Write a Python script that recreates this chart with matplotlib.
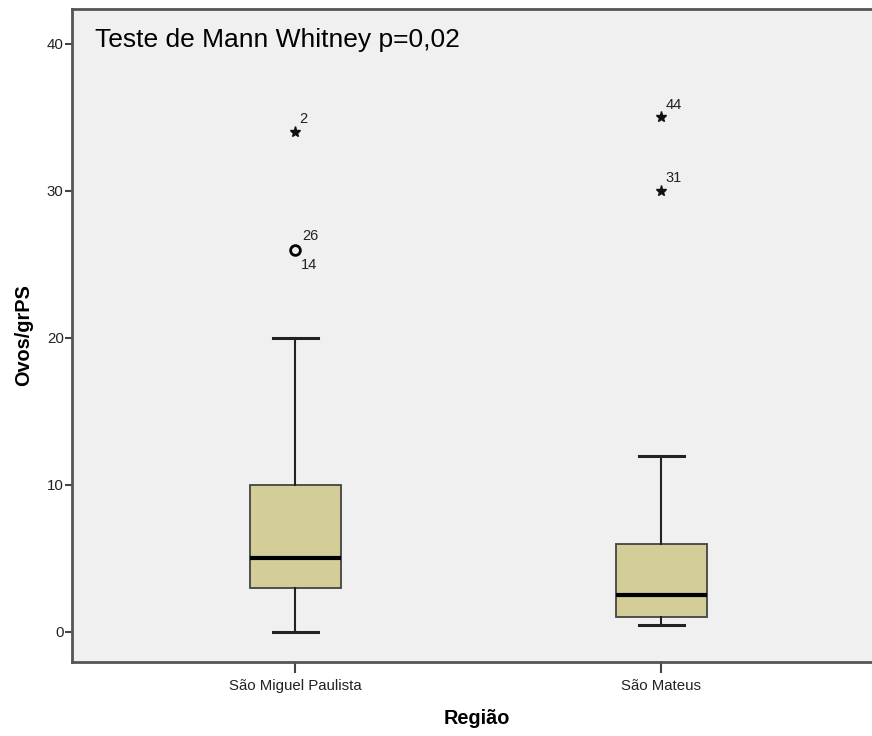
import matplotlib
matplotlib.use("Agg")
import matplotlib.pyplot as plt

plt.rcParams['font.family'] = ['Liberation Sans', 'DejaVu Sans']

categories = ["São Miguel Paulista", "São Mateus"]
whisker_low = [0, 0.5]
q1 = [3, 1]
median = [5, 2.5]
q3 = [10, 6]
whisker_high = [20, 12]

# outliers (circle) and extremes (star)
outlier_vals = [[26], []]
outlier_labels = [["26", "14"], []]
extreme_vals = [[34], [35, 30]]
extreme_labels = [["2"], ["44", "31"]]

yticks = [0, 10, 20, 30, 40]

fig = plt.figure(figsize=(8.72, 7.36), dpi=100)
ax = fig.add_axes([72/872, 1 - 662/736, 1 - 72/872 + 0.01, (662 - 9)/736])
ax.set_facecolor('#F0F0F0')

positions = [1, 2]
stats = []
for i, c in enumerate(categories):
    stats.append(dict(label=c, whislo=whisker_low[i], q1=q1[i], med=median[i],
                      q3=q3[i], whishi=whisker_high[i], fliers=[]))

ax.bxp(stats, positions=positions, widths=0.25, patch_artist=True, showfliers=False,
       boxprops=dict(facecolor='#D3CE97', edgecolor='#444444', linewidth=1.3),
       medianprops=dict(color='black', linewidth=3),
       whiskerprops=dict(color='#222222', linewidth=1.5),
       capprops=dict(color='#222222', linewidth=2.2),
       capwidths=0.123)

lab_fs = 10.5
for i, p in enumerate(positions):
    for v in outlier_vals[i]:
        ax.plot([p], [v], marker='o', markersize=7, markerfacecolor='none',
                markeredgecolor='black', markeredgewidth=2, linestyle='none')
    labs = outlier_labels[i]
    if labs:
        v = outlier_vals[i][0]
        ax.annotate(labs[0], (p, v), xytext=(5, 5), textcoords='offset points',
                    fontsize=lab_fs, color='#222222', ha='left', va='bottom')
        if len(labs) > 1:
            ax.annotate(labs[1], (p, v), xytext=(4, -6), textcoords='offset points',
                        fontsize=lab_fs, color='#222222', ha='left', va='top')
    for v, lab in zip(extreme_vals[i], extreme_labels[i]):
        ax.plot([p], [v], marker='*', markersize=8, color='#111111', linestyle='none')
        ax.annotate(lab, (p, v), xytext=(3, 4), textcoords='offset points',
                    fontsize=lab_fs, color='#222222', ha='left', va='bottom')

ax.set_xlim(0.389, 2.60)
ax.set_ylim(-2.04, 42.36)
ax.set_yticks(yticks)
ax.set_yticklabels([str(t) for t in yticks])
ax.set_xticks(positions)
ax.set_xticklabels(categories)

for s in ['left', 'bottom', 'top']:
    ax.spines[s].set_color('#555555')
    ax.spines[s].set_linewidth(2)
ax.spines['right'].set_visible(False)

ax.tick_params(axis='y', length=5, width=1.5, color='#444444', labelsize=10.8,
               labelcolor='#222222', pad=1)
ax.tick_params(axis='x', length=8, width=1.5, color='#444444', labelsize=10.8,
               labelcolor='#222222', pad=4)

ax.set_ylabel('Ovos/grPS', fontsize=14.3, fontweight='bold', labelpad=10)
ax.set_xlabel('Região', fontsize=14.3, fontweight='bold', labelpad=12)

fig.text(95/872, 1 - 47/736, 'Teste de Mann Whitney p=0,02', fontsize=19,
         ha='left', va='baseline', color='black')

fig.savefig('out.png', dpi=100)
